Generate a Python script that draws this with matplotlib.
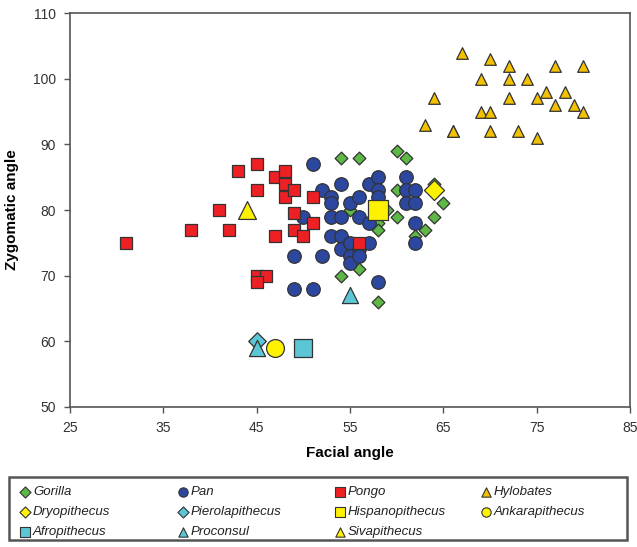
import matplotlib
matplotlib.use("Agg")
import matplotlib.pyplot as plt
from matplotlib.patches import Rectangle

plt.rcParams['font.family'] = ['Liberation Sans', 'DejaVu Sans']

# values: (facial angle, zygomatic angle)
gorilla_x = [54, 56, 60, 61, 60, 64, 65, 64, 63, 62, 53, 55, 58, 58, 59, 60, 56, 54, 58]
gorilla_y = [88, 88, 89, 88, 83, 84, 81, 79, 77, 76, 79, 80, 78, 77, 80, 79, 71, 70, 66]

pan_x = [51, 52, 53, 53, 54, 55, 56, 57, 58, 58, 58, 50, 53, 54, 56, 57, 61, 61, 62,
         61, 62, 62, 62, 53, 54, 54, 55, 55, 55, 56, 57, 49, 52, 56, 49, 51, 58]
pan_y = [87, 83, 82, 81, 84, 81, 82, 84, 85, 83, 82, 79, 79, 79, 79, 78, 85, 83, 83,
         81, 81, 78, 75, 76, 76, 74, 75, 73, 72, 74, 75, 73, 73, 73, 68, 68, 69]

pongo_x = [31, 38, 41, 42, 43, 45, 45, 47, 48, 48, 48, 49, 49, 49, 47, 50, 51, 51, 45, 46, 45, 56]
pongo_y = [75, 77, 80, 77, 86, 87, 83, 85, 86, 84, 82, 83, 79.5, 77, 76, 76, 82, 78, 70, 70, 69, 75]

hylobates_x = [67, 70, 72, 77, 80, 69, 72, 74, 76, 78, 72, 75, 77, 79, 80, 69, 70, 66, 70, 73, 75,
               64, 63, 66]
hylobates_y = [104, 103, 102, 102, 102, 100, 100, 100, 98, 98, 97, 97, 96, 96, 95, 95, 95, 92, 92,
               92, 91, 97, 93, 92]

dryopithecus = (64, 83)
pierolapithecus = (45, 60)
hispanopithecus = (58, 80)
ankarapithecus = (47, 59)
afropithecus = (50, 59)
proconsul_x = [45, 55]
proconsul_y = [59, 67]
sivapithecus = (44, 80)

green = '#5DB845'
blue = '#2B47A0'
red = '#EE2024'
gold = '#F2C100'
yellow = '#FFF200'
cyan = '#5BC6D6'
edge = '#333333'

fig = plt.figure(figsize=(6.37, 5.47), dpi=100)
ax = fig.add_axes([0.110, 0.256, 0.879, 0.720])

# series styles, reused for the legend
styles = {
    'Gorilla': dict(marker='D', c=green, s=42),
    'Pan': dict(marker='o', c=blue, s=95),
    'Pongo': dict(marker='s', c=red, s=82),
    'Hylobates': dict(marker='^', c=gold, s=70),
    'Dryopithecus': dict(marker='D', c=yellow, s=105),
    'Pierolapithecus': dict(marker='D', c=cyan, s=80),
    'Hispanopithecus': dict(marker='s', c=yellow, s=190),
    'Ankarapithecus': dict(marker='o', c=yellow, s=165),
    'Afropithecus': dict(marker='s', c=cyan, s=165),
    'Proconsul': dict(marker='^', c=cyan, s=135),
    'Sivapithecus': dict(marker='^', c=yellow, s=165),
}

def draw(name, x, y, z=2):
    st = styles[name]
    ax.scatter(x, y, marker=st['marker'], c=st['c'], s=st['s'],
               edgecolors=edge, linewidths=0.9, zorder=z)

draw('Gorilla', gorilla_x, gorilla_y, 2)
draw('Pan', pan_x, pan_y, 3)
draw('Pongo', pongo_x, pongo_y, 4)
draw('Hylobates', hylobates_x, hylobates_y, 3)
draw('Dryopithecus', [dryopithecus[0]], [dryopithecus[1]], 5)
draw('Pierolapithecus', [pierolapithecus[0]], [pierolapithecus[1]], 5)
draw('Proconsul', proconsul_x, proconsul_y, 6)
draw('Hispanopithecus', [hispanopithecus[0]], [hispanopithecus[1]], 5)
draw('Ankarapithecus', [ankarapithecus[0]], [ankarapithecus[1]], 5)
draw('Afropithecus', [afropithecus[0]], [afropithecus[1]], 5)
draw('Sivapithecus', [sivapithecus[0]], [sivapithecus[1]], 5)

ax.set_xlim(25, 85)
ax.set_ylim(50, 110)
ax.set_xticks(range(25, 86, 10))
ax.set_yticks(range(50, 111, 10))
ax.tick_params(direction='out', length=4, width=1, colors='#555555',
               labelcolor='#333333', labelsize=10, pad=6)
for sp in ax.spines.values():
    sp.set_color('#555555')
    sp.set_linewidth(1.2)
ax.set_xlabel('Facial angle', fontsize=11, fontweight='bold', labelpad=8)
ax.set_ylabel('Zygomatic angle', fontsize=11, fontweight='bold', labelpad=10)

# legend box drawn by hand so columns sit where they do in the picture
lax = fig.add_axes([0.0126, 0.011, 0.973, 0.119])
lax.set_xlim(8, 628)
lax.set_ylim(541, 476)
lax.axis('off')
lax.add_patch(Rectangle((9, 477), 618, 63, fill=False, edgecolor='#555555',
                        linewidth=1.8, clip_on=False))

legend_rows = [
    ['Gorilla', 'Pan', 'Pongo', 'Hylobates'],
    ['Dryopithecus', 'Pierolapithecus', 'Hispanopithecus', 'Ankarapithecus'],
    ['Afropithecus', 'Proconsul', 'Sivapithecus'],
]
col_x = [25, 183, 340, 486]
row_y = [492, 512, 532]
for r, row in enumerate(legend_rows):
    for c, name in enumerate(row):
        st = styles[name]
        lax.scatter([col_x[c]], [row_y[r]], marker=st['marker'], c=st['c'],
                    s=45 if st['marker'] != 'D' else 32, edgecolors=edge,
                    linewidths=0.8, clip_on=False)
        lax.text(col_x[c] + 8, row_y[r], name, fontsize=9.5, style='italic',
                 va='center', ha='left', color='#222222')

fig.savefig('out.png', dpi=100)
